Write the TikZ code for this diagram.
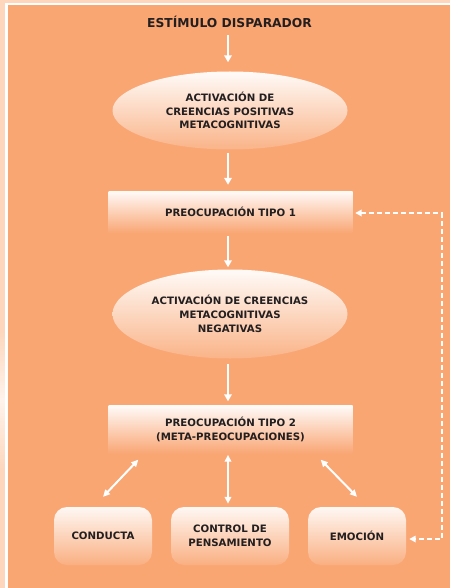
\documentclass[tikz,border=0pt]{standalone}
\usepackage{fontspec}
\setmainfont{DejaVu Sans}
\usetikzlibrary{shapes.geometric,arrows.meta,calc}
\definecolor{salmon}{RGB}{249,166,115}
\definecolor{peach}{RGB}{253,214,188}
\definecolor{ink}{RGB}{35,31,32}
\begin{document}
\begin{tikzpicture}[x=1pt,y=-1pt,
  lbl/.style={font=\bfseries\fontsize{10.2}{13.8}\selectfont,text=ink,align=center},
  ell/.style={ellipse,lbl,top color=white!95!salmon,bottom color=salmon!85!white,draw=none,inner sep=0pt},
  bar/.style={rectangle,lbl,top color=white!95!salmon,bottom color=salmon,draw=none,inner sep=0pt},
  rbox/.style={rectangle,rounded corners=13pt,lbl,top color=white!92!salmon,bottom color=salmon!90!white,draw=none,inner sep=0pt},
  flow/.style={draw=white,line width=2.6pt,-{Triangle[width=7.5pt,length=7pt]}},
  both/.style={draw=white,line width=2pt,{Triangle[width=6.5pt,length=7pt]}-{Triangle[width=6.5pt,length=7pt]}},
  loop/.style={draw=white,line width=2pt,dash pattern=on 5pt off 3pt,{Triangle[width=6.5pt,length=6.5pt]}-{Triangle[width=6.5pt,length=6.5pt]}}
]
\useasboundingbox (0,0) rectangle (450,588);
\fill[peach] (0,0) rectangle (450,588);
\shade[top color=peach,bottom color=white!70!peach] (0,330) rectangle (5,400);
\shade[top color=white!70!peach,bottom color=peach] (0,400) rectangle (5,470);
\fill[white] (5,3) rectangle (450,588);
\fill[salmon] (7.5,5) rectangle (450,588);

\node[lbl,font=\bfseries\fontsize{12.3}{16}\selectfont] (stim) at (229.5,22) {ESTÍMULO DISPARADOR};
\node[ell,minimum width=235pt,minimum height=78pt] (e1) at (230,110.5) {ACTIVACIÓN DE\\CREENCIAS POSITIVAS\\METACOGNITIVAS};
\node[bar,minimum width=244pt,minimum height=42pt] (r1) at (230.5,212) {PREOCUPACIÓN TIPO 1};
\node[ell,minimum width=235pt,minimum height=89pt] (e2) at (230,314) {ACTIVACIÓN DE CREENCIAS\\METACOGNITIVAS\\NEGATIVAS};
\node[bar,minimum width=244pt,minimum height=48pt] (r2) at (230.5,429.5) {PREOCUPACIÓN TIPO 2\\(META-PREOCUPACIONES)};
\node[rbox,minimum width=98pt,minimum height=58pt] (cond) at (103,536) {CONDUCTA};
\node[rbox,minimum width=118pt,minimum height=58pt] (ctrl) at (230,536) {CONTROL DE\\PENSAMIENTO};
\node[rbox,minimum width=98pt,minimum height=58pt] (emo) at (357,536) {EMOCIÓN};

\draw[flow] ([xshift=-1.5pt,yshift=-4pt]stim.south) -- ([xshift=-2pt,yshift=9pt]e1.north);
\draw[flow] ([xshift=-2pt,yshift=-3pt]e1.south) -- ([xshift=-2.5pt,yshift=6pt]r1.north);
\draw[flow] ([xshift=-2.5pt,yshift=-3pt]r1.south) -- ([xshift=-2pt,yshift=2pt]e2.north);
\draw[flow] ([xshift=-2pt,yshift=-5pt]e2.south) -- ([xshift=-2.5pt,yshift=4pt]r2.north);

\draw[both] ([xshift=30pt,yshift=-6pt]r2.south west) -- ([yshift=10pt]cond.north);
\draw[both] ([xshift=-2.5pt,yshift=-1pt]r2.south) -- ([xshift=-2pt,yshift=3pt]ctrl.north);
\draw[both] ([xshift=-32pt,yshift=-6pt]r2.south east) -- ([yshift=10pt]emo.north);

\coordinate (tr) at (441.5,213);
\coordinate (br) at (441.5,539);
\draw[loop] ([xshift=2.5pt,yshift=-1pt]r1.east) -- (tr) -- (br) -- ([xshift=3pt,yshift=-3pt]emo.east);
\end{tikzpicture}
\end{document}
